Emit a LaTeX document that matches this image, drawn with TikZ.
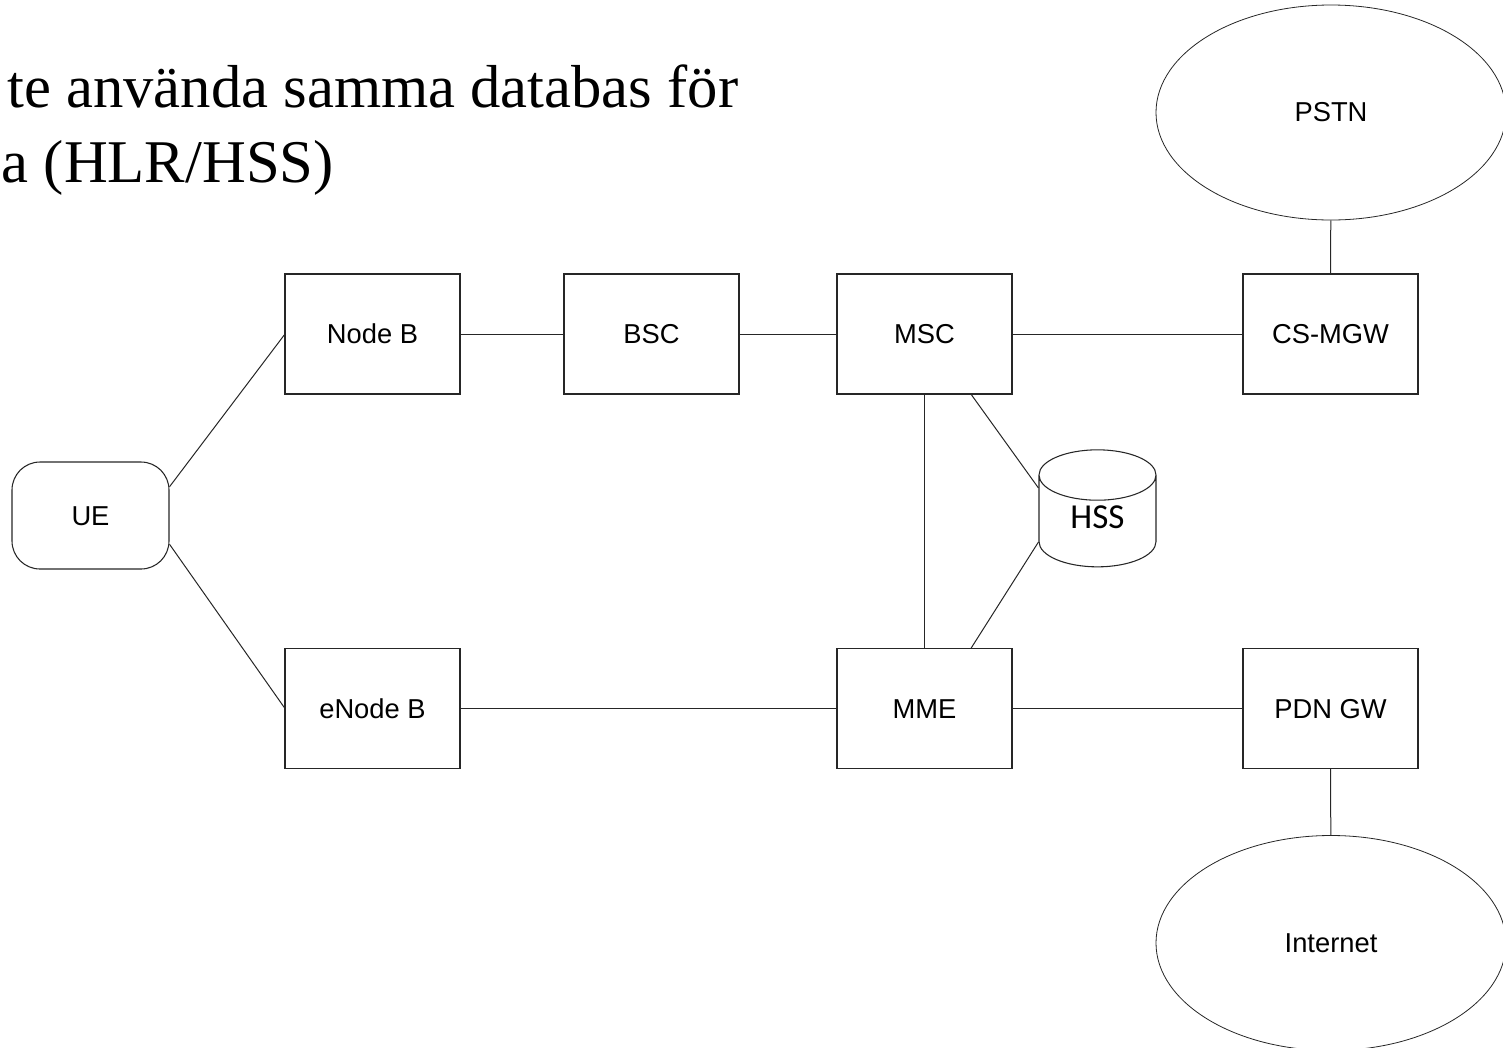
\documentclass[tikz,border=0pt]{standalone}
\usepackage{fontspec}
\setmainfont{Liberation Serif}
\setsansfont{Liberation Sans}
\newfontfamily\calibrifont{Carlito}
\usetikzlibrary{positioning,calc,shapes.geometric}

\begin{document}
\begin{tikzpicture}[x=0.75pt,y=-0.75pt,
  box/.style={draw=black!85,line width=0.8pt,outer sep=0pt,minimum width=131.25pt,minimum height=90pt,
    text height=14.7pt,text depth=0pt,font=\sffamily\fontsize{20.5}{24}\selectfont},
  net/.style={draw=black!85,line width=0.6pt,ellipse,minimum width=262.5pt,minimum height=161.25pt,
    font=\sffamily\fontsize{20.5}{24}\selectfont},
  link/.style={draw=black!85,line width=0.75pt}
]
\useasboundingbox (0,0) rectangle (1503,1047);
% title, cut at the left edge
\node[anchor=base west,inner sep=0pt,font=\fontsize{45.5}{54}\selectfont] (T1) at (7,107) {te använda samma databas för};
\node[anchor=base east,inner sep=0pt,font=\fontsize{45.5}{54}\selectfont] (T2) at (334,182) {a (HLR/HSS)};

\node[draw=black!85,line width=0.8pt,rounded corners=21pt,minimum width=117.75pt,minimum height=80.25pt,
  text height=14.7pt,text depth=0pt,font=\sffamily\fontsize{20.5}{24}\selectfont] (UE) at (90.5,515.5) {UE};
\node[box] (NB) at (372.5,334) {Node B};
\node[box,right=78pt of NB] (BSC) {BSC};
\node[box,right=73.5pt of BSC] (MSC) {MSC};
\node[box,right=173.25pt of MSC] (MGW) {CS-MGW};
\node[box] (ENB) at (372.5,708.5) {eNode B};
\node[box] (MME) at (924.5,708.5) {MME};
\node[box] (PGW) at (1330.5,708.5) {PDN GW};
\node[net] (PSTN) at (1331,112.5) {PSTN};
\node[net] (INET) at (1331,943) {Internet};
\node[draw=black!85,line width=0.8pt,cylinder,shape border rotate=90,aspect=0.8,
  minimum width=87.75pt,minimum height=87.75pt,text height=16.3pt,text depth=12pt,
  font=\calibrifont\fontsize{26.3}{30}\selectfont] (HSS) at (1097.5,526) {HSS};

% connections
\draw[link] (UE.20) -- (NB.west);
\draw[link] (UE.-20) -- (ENB.west);
\draw[link] (NB) -- (BSC);
\draw[link] (BSC) -- (MSC);
\draw[link] (MSC) -- (MGW);
\draw[link] (MGW) -- (PSTN);
\draw[link] (MSC) -- (MME);
\draw[link] ($(MSC.south)!0.53!(MSC.south east)$) -- ($(HSS.west)+(0,-38)$);
\draw[link] ($(MME.north)!0.53!(MME.north east)$) -- ($(HSS.west)+(0,16)$);
\draw[link] (ENB) -- (MME);
\draw[link] (MME) -- (PGW);
\draw[link] (PGW) -- (INET);
\end{tikzpicture}
\end{document}
